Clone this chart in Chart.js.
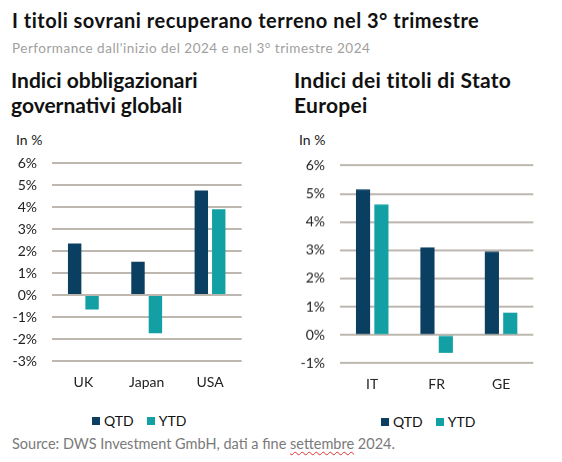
<!DOCTYPE html>
<html><head><meta charset="utf-8">
<script src="https://cdn.jsdelivr.net/npm/chart.js@4/dist/chart.umd.min.js"></script>
<style>
html,body{margin:0;padding:0;background:#fff;}
body{width:562px;height:462px;position:relative;overflow:hidden;font-family:Lato,"Open Sans",sans-serif;}
.abs{position:absolute;white-space:nowrap;}
#title{left:12px;top:8px;font-size:20px;font-weight:bold;color:#111;letter-spacing:0.5px;}
#sub{left:12px;top:40px;font-size:13.5px;color:#a0a0a0;letter-spacing:0.5px;}
.sec{font-size:21px;font-weight:bold;color:#111;line-height:25px;}
#s1{left:11px;top:67px;}
#s2{left:294px;top:67px;letter-spacing:0.3px;}
.inp{font-size:14px;color:#222;}
#i1{left:16px;top:131px;}
#i2{left:299px;top:131px;}
.cv{position:absolute;}
.leg{font-size:14px;color:#111;display:flex;align-items:center;}
.leg span.sq{display:inline-block;width:8px;height:8px;margin-right:4px;}
.leg span.lb{margin-right:13px;}
#l1{left:92px;top:412px;}
#l2{left:381px;top:413px;}
#src{left:12px;top:435px;font-size:14.5px;color:#7a7a7a;}
#src u{text-decoration:underline wavy #e03030;text-decoration-thickness:1px;text-underline-offset:2px;}
</style></head>
<body>
<div class="abs" id="title">I titoli sovrani recuperano terreno nel 3° trimestre</div>
<div class="abs" id="sub">Performance dall'inizio del 2024 e nel 3° trimestre 2024</div>
<div class="abs sec" id="s1">Indici obbligazionari<br>governativi globali</div>
<div class="abs sec" id="s2">Indici dei titoli di Stato<br>Europei</div>
<div class="abs inp" id="i1">In %</div>
<div class="abs inp" id="i2">In %</div>
<div class="cv" style="left:0px;top:139.6px;width:270px;height:260.4px;"><canvas id="c1"></canvas></div>
<div class="cv" style="left:280px;top:142.3px;width:282px;height:257.7px;"><canvas id="c2"></canvas></div>
<div class="abs leg" id="l1"></div>
<div class="abs leg" id="l2"></div>
<div class="abs" id="src">Source: DWS Investment GmbH, dati a fine <u>settembre</u> 2024.</div>
<script>
const seriesNames = ["QTD", "YTD"];
const seriesColors = ["#0b3f62", "#13a0a5"];

const globalCategories = ["UK", "Japan", "USA"];
const globalQTD = [2.35, 1.52, 4.75];
const globalYTD = [-0.66, -1.73, 3.9];
const globalTicks = [6, 5, 4, 3, 2, 1, 0, -1, -2, -3];

const euroCategories = ["IT", "FR", "GE"];
const euroQTD = [5.15, 3.1, 2.95];
const euroYTD = [4.62, -0.63, 0.79];
const euroTicks = [6, 5, 4, 3, 2, 1, 0, -1];

function makeChart(id, cats, qtd, ytd, ticks, geo) {
  const ctx = document.getElementById(id);
  return new Chart(ctx, {
    type: 'bar',
    data: {
      labels: cats,
      datasets: [
        {label: seriesNames[0], data: qtd, backgroundColor: seriesColors[0], barPercentage: 0.77, categoryPercentage: geo.cat},
        {label: seriesNames[1], data: ytd, backgroundColor: seriesColors[1], barPercentage: 0.77, categoryPercentage: geo.cat}
      ]
    },
    options: {
      responsive: true, maintainAspectRatio: false, animation: false,
      layout: {padding: {left: 0, right: geo.right, top: 0, bottom: 0}},
      plugins: {legend: {display: false}, tooltip: {enabled: false}},
      scales: {
        x: {
          grid: {display: false, drawTicks: false},
          border: {display: false},
          ticks: {color: '#222', font: {family: 'Lato', size: 14}, padding: 13},
          afterFit: s => { s.height = geo.xh; }
        },
        y: {
          min: ticks[ticks.length - 1], max: ticks[0],
          afterBuildTicks: s => { s.ticks = ticks.map(v => ({value: v})); },
          grid: {color: '#bdb7af', lineWidth: 2, drawTicks: false},
          border: {display: false},
          ticks: {color: '#222', font: {family: 'Lato', size: 14}, padding: geo.tp, callback: v => v + '%'},
          afterFit: s => { s.width = geo.yw; }
        }
      }
    }
  });
}

makeChart('c1', globalCategories, globalQTD, globalYTD, globalTicks, {cat: 0.55, right: 28.3, xh: 39.3, yw: 51.7, tp: 14.7});
makeChart('c2', euroCategories, euroQTD, euroYTD, euroTicks, {cat: 0.57, right: 28.7, xh: 37.3, yw: 60, tp: 15});

function legend(id) {
  const el = document.getElementById(id);
  seriesNames.forEach((n, i) => {
    const sq = document.createElement('span'); sq.className = 'sq'; sq.style.background = seriesColors[i];
    const lb = document.createElement('span'); lb.className = 'lb'; lb.textContent = n;
    el.appendChild(sq); el.appendChild(lb);
  });
}
legend('l1'); legend('l2');
</script>
</body></html>
